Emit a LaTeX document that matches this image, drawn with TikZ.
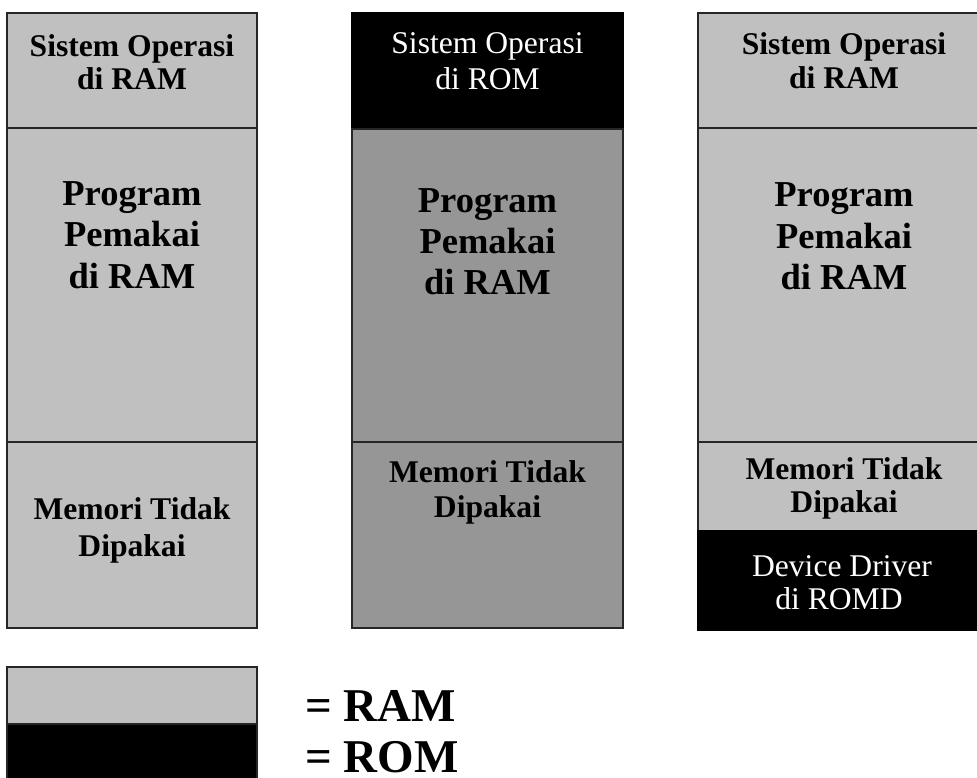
\documentclass[tikz,border=0pt]{standalone}
\usepackage{fontspec}
\setmainfont{Liberation Serif}
\definecolor{ramgray}{RGB}{192,192,192}
\definecolor{dimgray}{RGB}{150,150,150}
\begin{document}
\begin{tikzpicture}[x=1pt,y=-1pt,
  cell/.style={draw=black!85, line width=1.4pt, inner sep=0pt, outer sep=0pt, anchor=north west},
  ram/.style={cell, fill=ramgray},
  dim/.style={cell, fill=dimgray},
  rom/.style={cell, fill=black, draw=black},
  bt/.style={anchor=base, inner sep=0pt, font=\fontsize{31.6}{34}\selectfont\bfseries},
  rt/.style={anchor=base, inner sep=0pt, font=\fontsize{31.6}{34}\selectfont, text=white},
  big/.style={anchor=base, inner sep=0pt, font=\fontsize{36.5}{40}\selectfont\bfseries},
  key/.style={anchor=base west, inner sep=0pt, text depth=0pt, font=\fontsize{47}{50}\selectfont\bfseries}]
\useasboundingbox (0,0) rectangle (977,778);

% first map: everything in RAM
\node[ram, minimum width=250pt, minimum height=115pt] (a1) at (7,13) {};
\node[ram, minimum width=250pt, minimum height=314pt] (a2) at (7,128) {};
\node[ram, minimum width=250pt, minimum height=186pt] (a3) at (7,442) {};
\node[bt] (a1t1) at (132,57) {Sistem Operasi};
\node[bt] (a1t2) at (132,90) {di RAM};
\node[big] (a2t1) at (132,206) {Program};
\node[big] (a2t2) at (132,247) {Pemakai};
\node[big] (a2t3) at (132,288) {di RAM};
\node[bt] (a3t1) at (132,519) {Memori Tidak};
\node[bt] (a3t2) at (132,556) {Dipakai};

% second map: system in ROM
\node[rom, minimum width=271pt, minimum height=116pt] (b1) at (352,13) {};
\node[dim, minimum width=271pt, minimum height=313pt] (b2) at (352,129) {};
\node[dim, minimum width=271pt, minimum height=186pt] (b3) at (352,442) {};
\node[rt] (b1t1) at (487.5,54) {Sistem Operasi};
\node[rt] (b1t2) at (487.5,90) {di ROM};
\node[big] (b2t1) at (487.5,212) {Program};
\node[big] (b2t2) at (487.5,253) {Pemakai};
\node[big] (b2t3) at (487.5,294) {di RAM};
\node[bt] (b3t1) at (487.5,482) {Memori Tidak};
\node[bt] (b3t2) at (487.5,517) {Dipakai};

% third map: RAM with device drivers in ROM
\node[ram, minimum width=292pt, minimum height=115pt] (c1) at (698,13) {};
\node[ram, minimum width=292pt, minimum height=314pt] (c2) at (698,128) {};
\node[ram, minimum width=292pt, minimum height=89pt] (c3) at (698,442) {};
\node[rom, minimum width=292pt, minimum height=99pt] (c4) at (698,531) {};
\node[bt] (c1t1) at (844,55) {Sistem Operasi};
\node[bt] (c1t2) at (844,89) {di RAM};
\node[big] (c2t1) at (844,207) {Program};
\node[big] (c2t2) at (844,248) {Pemakai};
\node[big] (c2t3) at (844,289) {di RAM};
\node[bt] (c3t1) at (844,479) {Memori Tidak};
\node[bt] (c3t2) at (844,512) {Dipakai};
\node[rt] (c4t1) at (842,576) {Device Driver};
\node[rt] (c4t2) at (839,609) {di ROMD};

% key
\node[ram, minimum width=250pt, minimum height=57pt] (k1) at (7,667) {};
\node[rom, draw=black!85, minimum width=250pt, minimum height=70pt] (k2) at (7,724) {};
\node[key] (k1t) at (305,721) {= RAM};
\node[key] (k2t) at (305,772) {= ROM};
\end{tikzpicture}
\end{document}
